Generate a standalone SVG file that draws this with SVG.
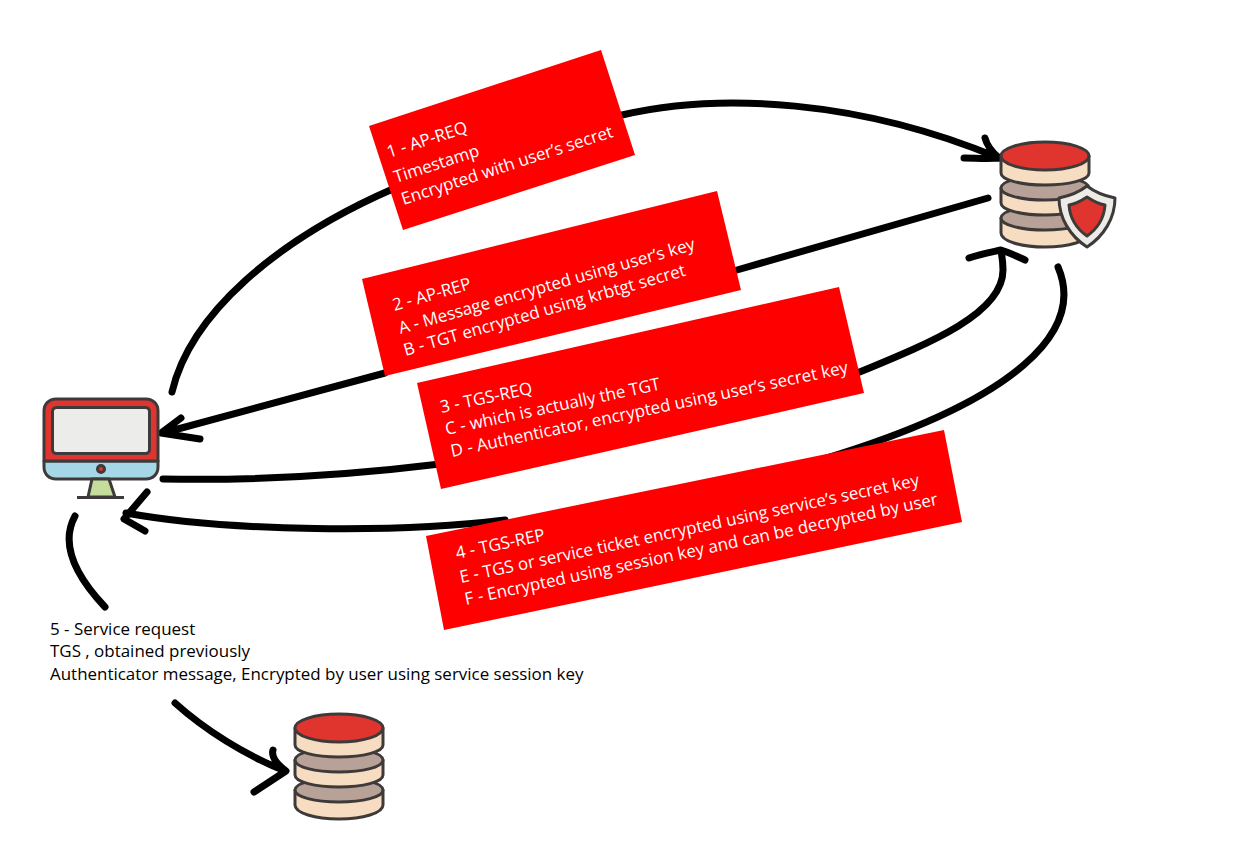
<svg xmlns="http://www.w3.org/2000/svg" width="1242" height="847" viewBox="0 0 1242 847">
<style>
.c{fill:none;stroke:#000;stroke-width:7;stroke-linecap:round;stroke-linejoin:round}
.box{fill:#fe0000}
.w{font-family:"Open Sans","Noto Sans",sans-serif;font-size:17px;fill:#fff}
.k{font-family:"Open Sans","Noto Sans",sans-serif;font-size:16.950px;fill:#000}
.o{stroke:#3f3a3a;stroke-width:3;stroke-linejoin:round}
.cream{fill:#f6dcc0}.grey{fill:#b8a298}.red{fill:#e0352e}
</style>
<defs>
<g id="db">
<path class="o cream" d="M1001 218v15c0 8 20 14 44 14s44-6 44-14v-15z"/>
<path class="o grey" d="M1001 218c0-7 20-12 44-12s44 5 44 12-20 12-44 12-44-5-44-12z"/>
<path class="o cream" d="M1001 188v15c0 7 20 12 44 12s44-5 44-12v-15z"/>
<path class="o grey" d="M1001 188c0-7 20-12 44-12s44 5 44 12-20 12-44 12-44-5-44-12z"/>
<path class="o cream" d="M1001 156v17c0 7 20 12 44 12s44-5 44-12v-17z"/>
<ellipse class="o red" cx="1045" cy="156" rx="44" ry="14"/>
</g>
</defs>
<rect width="1242" height="847" fill="#fff"/>
<g id="connectors">
<path class="c" d="M172 392C190 315 275 240 395 188M622 115C720 92 860 100 999 158M985 138C987 146 992 152 999 158C988 159 975 158 964 158"/>
<path class="c" d="M988 198L737 270M385 373L163 433M181 418L161 433L200 439"/>
<path class="c" d="M163 479C260 481 350 475 440 464M850 376C925 345 1003 315 1003 270C1003 262 1002 256 1001 251M969 258C980 254 992 252 1001 250C1008 252 1016 256 1025 260"/>
<path class="c" d="M1058 267C1085 330 1020 400 820 460M505 520C400 533 230 532 126 513M147 492L124 519L145 531"/>
<path class="c" d="M75 516C62 540 70 570 105 607M175 703C205 730 245 755 285 771M273 750C271 757 278 765 286 771L254 792"/>
</g>
<g id="server-auth">
<use href="#db"/>
<path fill="#ecebe6" class="o" d="M1087 186C1096 193 1105 196 1115 198C1115 218 1104 236 1087 247C1070 236 1059 218 1059 198C1069 196 1078 193 1087 186Z"/>
<path class="o red" d="M1087 197C1093 201 1099 204 1105 205C1104 219 1097 229 1087 236C1077 229 1070 219 1069 205C1075 204 1081 201 1087 197Z"/>
</g>
<g id="client">
<path class="o" fill="#a6d7e7" d="M44 461V467C44 474 49 479 56 479H146C153 479 158 474 158 467V461Z"/>
<path class="o red" d="M44 461V411C44 404 49 399 56 399H146C153 399 158 404 158 411V461Z"/>
<rect x="52.500" y="407.500" width="97" height="46" rx="4" fill="#ecedea" class="o"/>
<circle cx="101" cy="469" r="3.500" class="o red"/>
<path class="o" fill="#c5dc9c" d="M92 479H109L115 497H88Z"/>
<path d="M77 497.500H124" class="o" fill="none"/>
</g>
<g id="server-service"><use href="#db" transform="translate(-706 572)"/></g>
<g id="label-1">
<polygon class="box" points="369,126 601,50 635,155 403,230"/>
<g transform="translate(389 158) rotate(-18)"><text class="w">1 - AP-REQ</text></g>
<g transform="translate(396 183) rotate(-18)"><text class="w">Timestamp</text></g>
<g transform="translate(403.500 205) rotate(-18)"><text class="w">Encrypted with user’s secret</text></g>
</g>
<g id="label-2">
<polygon class="box" points="362,279 717,191 741,290 385,376"/>
<g transform="translate(394.500 311) rotate(-16)"><text class="w">2 - AP-REP</text></g>
<g transform="translate(400.500 334) rotate(-16)"><text class="w">A - Message encrypted using user’s key</text></g>
<g transform="translate(405.500 356) rotate(-16)"><text class="w">B - TGT encrypted using krbtgt secret</text></g>
</g>
<g id="label-3">
<polygon class="box" points="417,383 839,287 864,393 441,489"/>
<g transform="translate(441.500 413) rotate(-12)"><text class="w">3 - TGS-REQ</text></g>
<g transform="translate(446.500 435) rotate(-12)"><text class="w">C - which is actually the TGT</text></g>
<g transform="translate(452 457) rotate(-12)"><text class="w">D - Authenticator, encrypted using user’s secret key</text></g>
</g>
<g id="label-4">
<polygon class="box" points="426,536 944,430 962,522 444,630"/>
<g transform="translate(457 559) rotate(-12)"><text class="w">4 - TGS-REP</text></g>
<g transform="translate(461 583) rotate(-12)"><text class="w">E - TGS or service ticket encrypted using service’s secret key</text></g>
<g transform="translate(466 605) rotate(-12)"><text class="w">F - Encrypted using session key and can be decrypted by user</text></g>
</g>
<g id="label-5">
<text class="k" x="50" y="635">5 - Service request</text>
<text class="k" x="50" y="657">TGS , obtained previously</text>
<text class="k" x="50" y="680">Authenticator message, Encrypted by user using service session key</text>
</g>
</svg>
